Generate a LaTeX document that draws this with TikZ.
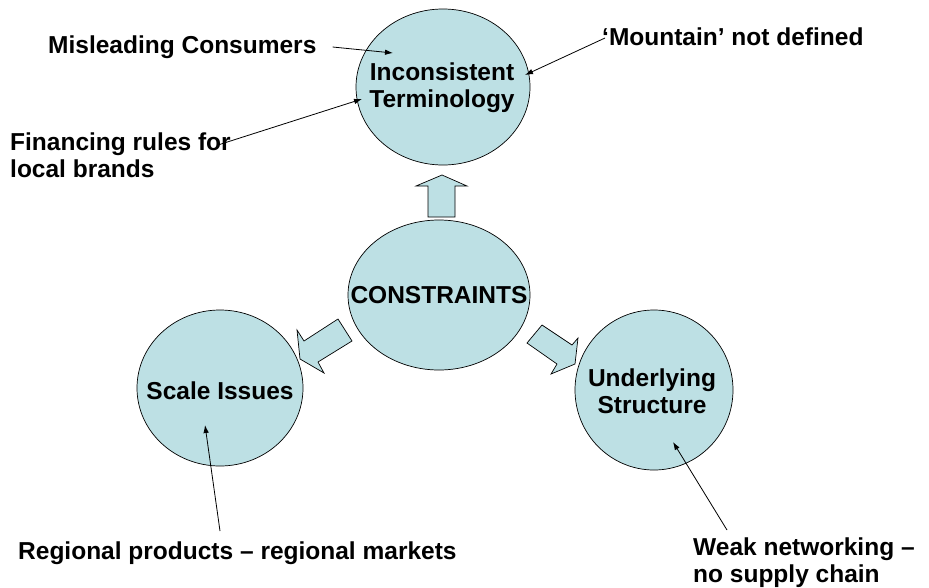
\documentclass[tikz,border=0pt]{standalone}
\usepackage{fontspec}
\setmainfont{Liberation Sans}
\usetikzlibrary{shapes.geometric,arrows.meta}
\definecolor{bubble}{RGB}{189,224,228}

\begin{document}
\begin{tikzpicture}[x=1pt,y=-1pt,
	bubble/.style={ellipse,draw=black,fill=bubble,line width=0.7pt,inner sep=0pt},
	note/.style={inner sep=0pt,align=left,font=\bfseries\fontsize{24.5}{27}\selectfont},
	title/.style={note,align=center},
	pointer/.style={-{Latex[length=8pt,width=5.5pt]},line width=0.8pt},
	blockarrow/.style={draw=black,fill=bubble,line width=0.7pt}]
	\useasboundingbox (0,0) rectangle (929,587);
	\node [bubble,minimum width=182,minimum height=150] (cons) at (439,295) {};
	\node [bubble,minimum width=174,minimum height=156] (term) at (443,87) {};
	\node [bubble,minimum width=166,minimum height=156] (scale) at (220,388) {};
	\node [bubble,minimum width=158,minimum height=160] (struct) at (654,390) {};
	\node [title] (constext) at (cons.center) {CONSTRAINTS};
	\node [title] (termtext) at ([shift={(-1,1)}]term.center) {Inconsistent\\Terminology};
	\node [title] (scaletext) at ([shift={(0,3)}]scale.center) {Scale Issues};
	\node [title] (structtext) at ([shift={(-2,1)}]struct.center) {Underlying\\Structure};
	\draw [blockarrow] (442,175) -- (467,186) -- (455,186) -- (455,217) -- (428,217) -- (428,186) -- (416,186) -- cycle;
	\draw [blockarrow] (300,359) -- (324,373) -- (318,362) -- (352,341) -- (338,319) -- (304,341) -- (297,330) -- cycle;
	\draw [blockarrow] (575,364) -- (551,374) -- (557,364) -- (527,343) -- (542,325) -- (572,345) -- (578,338) -- cycle;
	\node [note,anchor=base west] (misl) at (48,53) {Misleading Consumers};
	\node [note,anchor=north west] (fin) at (10,133) {Financing rules for\\local brands};
	\node [note,anchor=base west] (mount) at (602,45) {`Mountain' not defined};
	\node [note,anchor=base west] (reg) at (18,559) {Regional products -- regional markets};
	\node [note,anchor=north west] (weak) at (693,538) {Weak networking --\\no supply chain};
	\coordinate (t1) at (393,53);
	\coordinate (t2) at (362,99);
	\coordinate (t3) at (525,75);
	\coordinate (t4) at (205,425);
	\coordinate (t5) at (673,442);
	\draw [pointer] ([shift={(16,-6)}]misl.base east) -- (t1);
	\draw [pointer] ([shift={(-13,12)}]fin.north east) -- (t2);
	\draw [pointer] ([shift={(3,-7)}]mount.base west) -- (t3);
	\draw [pointer] ([shift={(202,-28)}]reg.base west) -- (t4);
	\draw [pointer] ([shift={(34,-8)}]weak.north west) -- (t5);
\end{tikzpicture}
\end{document}
